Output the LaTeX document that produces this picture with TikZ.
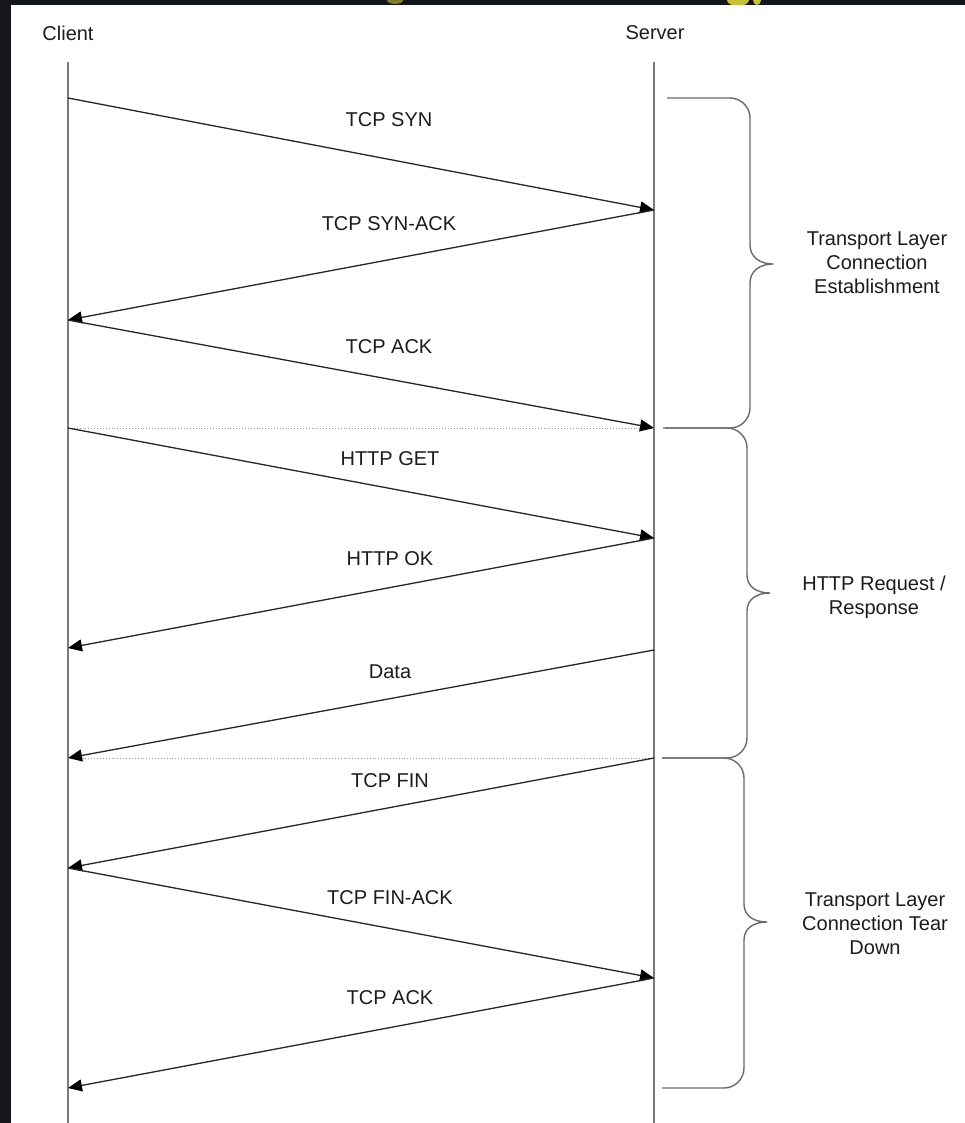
\documentclass[tikz,border=0pt]{standalone}
\usepackage{fontspec}
\setmainfont{Liberation Sans}
\usetikzlibrary{arrows.meta}
\definecolor{bgdark}{HTML}{15161C}
\definecolor{blob}{HTML}{C8C23A}
\definecolor{textdark}{HTML}{1C1C1C}
\definecolor{msgdark}{HTML}{262626}
\definecolor{lifegray}{HTML}{7A7A7A}
\definecolor{bracegray}{HTML}{6A6A6A}
\definecolor{sepgray}{HTML}{9A9A9A}
\begin{document}
\begin{tikzpicture}[x=1pt,y=-1pt,
  lifeline/.style={draw=lifegray, line width=1.4pt},
  msg/.style={draw=msgdark, line width=1.3pt, -{Triangle[length=14pt,width=12pt,fill=black,color=black]}},
  sepline/.style={draw=sepgray, line width=0.9pt, dotted},
  bracepath/.style={draw=bracegray, line width=1.4pt},
  lbl/.style={font=\fontsize{20}{24}\selectfont, text=textdark, inner sep=0pt},
  msglbl/.style={lbl, anchor=base},
  grp/.style={lbl, align=center}]
% background
\fill[bgdark] (0,0) rectangle (965,1123);
\begin{scope}
\clip (0,0) rectangle (965,5);
\fill[blob] (738,0) ellipse [x radius=11, y radius=6];
\fill[blob] (757,0) ellipse [x radius=4, y radius=5];
\fill[blob!60!bgdark] (395,0) ellipse [x radius=8, y radius=4];
\end{scope}
\fill[white] (11,5) rectangle (965,1123);
\useasboundingbox (0,0) rectangle (965,1123);

% actors
\node[lbl] (client) at (68,33) {Client};
\node[lbl] (server) at (655,33) {Server};

% lifelines
\coordinate (ctop) at (68,62);
\coordinate (cbot) at (68,1123);
\coordinate (stop) at (654,62);
\coordinate (sbot) at (654,1123);
\draw[lifeline] (ctop) -- (cbot);
\draw[lifeline] (stop) -- (sbot);

% message end points
\coordinate (c0) at (68,98);
\coordinate (c1) at (68,320);
\coordinate (c2) at (68,428);
\coordinate (c3) at (68,648);
\coordinate (c4) at (68,758);
\coordinate (c5) at (68,868);
\coordinate (c6) at (68,1088);
\coordinate (s0) at (654,210);
\coordinate (s1) at (654,428);
\coordinate (s2) at (654,538);
\coordinate (s3) at (654,650);
\coordinate (s4) at (654,758);
\coordinate (s5) at (654,978);

% separators
\draw[sepline] (c2) -- (s1);
\draw[sepline] (c4) -- (s4);

% messages
\draw[msg] (c0) -- (s0);
\draw[msg] (s0) -- (c1);
\draw[msg] (c1) -- (s1);
\draw[msg] (c2) -- (s2);
\draw[msg] (s2) -- (c3);
\draw[msg] (s3) -- (c4);
\draw[msg] (s4) -- (c5);
\draw[msg] (c5) -- (s5);
\draw[msg] (s5) -- (c6);

% message labels
\node[msglbl] (l0) at (389,127) {TCP SYN};
\node[msglbl] (l1) at (389,231) {TCP SYN-ACK};
\node[msglbl] (l2) at (389,353) {TCP ACK};
\node[msglbl] (l3) at (390,465) {HTTP GET};
\node[msglbl] (l4) at (390,565) {HTTP OK};
\node[msglbl] (l5) at (390,678) {Data};
\node[msglbl] (l6) at (390,787) {TCP FIN};
\node[msglbl] (l7) at (390,904) {TCP FIN-ACK};
\node[msglbl] (l8) at (390,1004) {TCP ACK};

% braces
\draw[bracepath] (667,98) -- (730,98) .. controls (741,98) and (750,107) .. (750,118)
  -- (750,245) .. controls (750,257) and (760,264) .. (773,264)
  .. controls (760,264) and (750,271) .. (750,283)
  -- (750,408) .. controls (750,419) and (741,428) .. (730,428) -- (665,428);
\draw[bracepath] (663,428) -- (727,428) .. controls (738,428) and (747,437) .. (747,448)
  -- (747,575) .. controls (747,587) and (757,593) .. (770,593)
  .. controls (757,593) and (747,599) .. (747,611)
  -- (747,738) .. controls (747,749) and (738,758) .. (727,758) -- (662,758);
\draw[bracepath] (662,758) -- (724,758) .. controls (735,758) and (744,767) .. (744,778)
  -- (744,904) .. controls (744,916) and (754,922) .. (767,922)
  .. controls (754,922) and (744,928) .. (744,940)
  -- (744,1068) .. controls (744,1079) and (735,1088) .. (724,1088) -- (662,1088);

% group labels
\node[grp] (g1) at (877,263) {Transport Layer\\Connection\\Establishment};
\node[grp] (g2) at (874,597) {HTTP Request /\\Response};
\node[grp] (g3) at (875,924) {Transport Layer\\Connection Tear\\Down};
\end{tikzpicture}
\end{document}
